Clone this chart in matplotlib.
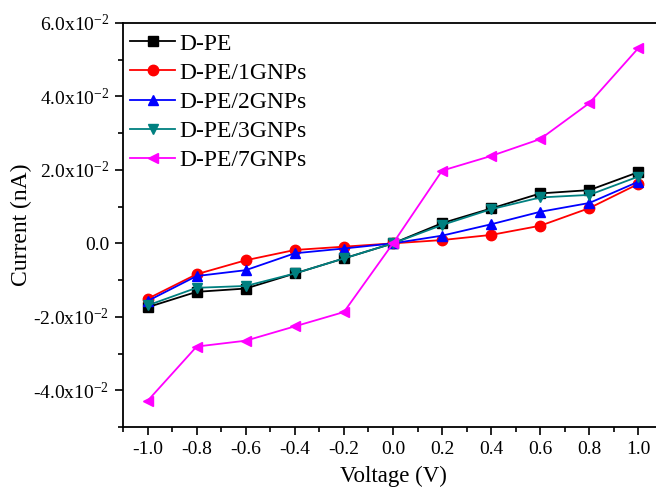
import matplotlib
matplotlib.use("Agg")
import matplotlib.pyplot as plt
from matplotlib.ticker import MultipleLocator, FixedLocator, FixedFormatter

plt.rcParams['font.family'] = ['Liberation Serif', 'DejaVu Serif']
plt.rcParams['mathtext.fontset'] = 'custom'
plt.rcParams['mathtext.rm'] = 'Liberation Serif'
plt.rcParams['mathtext.it'] = 'Liberation Serif:italic'

voltage = [-1.0, -0.8, -0.6, -0.4, -0.2, 0.0, 0.2, 0.4, 0.6, 0.8, 1.0]
d_pe = [-0.0174, -0.0132, -0.0123, -0.0082, -0.0041, 0.0, 0.0055, 0.0095, 0.0136, 0.0145, 0.0194]
d_pe_1 = [-0.0151, -0.0084, -0.0046, -0.0018, -0.0009, 0.0, 0.0009, 0.0023, 0.0048, 0.0096, 0.0162]
d_pe_2 = [-0.0157, -0.0089, -0.0073, -0.0027, -0.0014, 0.0, 0.0021, 0.0052, 0.0086, 0.0110, 0.0168]
d_pe_3 = [-0.0169, -0.0121, -0.0116, -0.0082, -0.0041, 0.0, 0.0050, 0.0093, 0.0125, 0.0132, 0.0182]
d_pe_7 = [-0.0429, -0.0281, -0.0265, -0.0226, -0.0187, 0.0, 0.0198, 0.0238, 0.0284, 0.0382, 0.0532]

labels = ['D-PE', 'D-PE/1GNPs', 'D-PE/2GNPs', 'D-PE/3GNPs', 'D-PE/7GNPs']
colors = ['#000000', '#FF0000', '#0000FF', '#008080', '#FF00FF']
markers = ['s', 'o', '^', 'v', '<']
series = [d_pe, d_pe_1, d_pe_2, d_pe_3, d_pe_7]

y_ticks = [-0.04, -0.02, 0.0, 0.02, 0.04, 0.06]
y_tick_labels = [r'-4.0x10$^{-2}$', r'-2.0x10$^{-2}$', '0.0', r'2.0x10$^{-2}$', r'4.0x10$^{-2}$', r'6.0x10$^{-2}$']
x_ticks = [-1.0, -0.8, -0.6, -0.4, -0.2, 0.0, 0.2, 0.4, 0.6, 0.8, 1.0]

fig = plt.figure(figsize=(6.56, 4.90), dpi=100)
ax = fig.add_axes([123 / 656, 1 - 427 / 490, 540 / 656, (427 - 23) / 490])

for vals, lab, c, m in zip(series, labels, colors, markers):
    ax.plot(voltage, vals, color=c, marker=m, markersize=7.5, linewidth=1.3, label=lab)

ax.set_xlim(-1.1, 1.1)
ax.set_ylim(-0.05, 0.06)
ax.xaxis.set_major_locator(FixedLocator(x_ticks))
ax.xaxis.set_major_formatter(FixedFormatter(['%.1f' % v for v in x_ticks]))
ax.xaxis.set_minor_locator(MultipleLocator(0.1))
ax.yaxis.set_major_locator(FixedLocator(y_ticks))
ax.yaxis.set_major_formatter(FixedFormatter(y_tick_labels))
ax.yaxis.set_minor_locator(MultipleLocator(0.01))

ax.tick_params(which='both', direction='out', top=False, right=False, labelsize=14, width=1.2)
ax.tick_params(which='major', length=6, pad=4)
ax.tick_params(which='minor', length=3.5)
for s in ['left', 'bottom', 'top']:
    ax.spines[s].set_linewidth(1.3)
ax.spines['right'].set_visible(False)

ax.set_xlabel('Voltage (V)', fontsize=16.5, labelpad=6)
ax.set_ylabel('Current (nA)', fontsize=17, labelpad=1)

ax.legend(loc='upper left', bbox_to_anchor=(0.0, 1 - 3 / 404), frameon=False, fontsize=17,
          handlelength=1.9, borderaxespad=0.0, labelspacing=0.32, handletextpad=0.2, borderpad=0.3)

fig.savefig('out.png', dpi=100)
